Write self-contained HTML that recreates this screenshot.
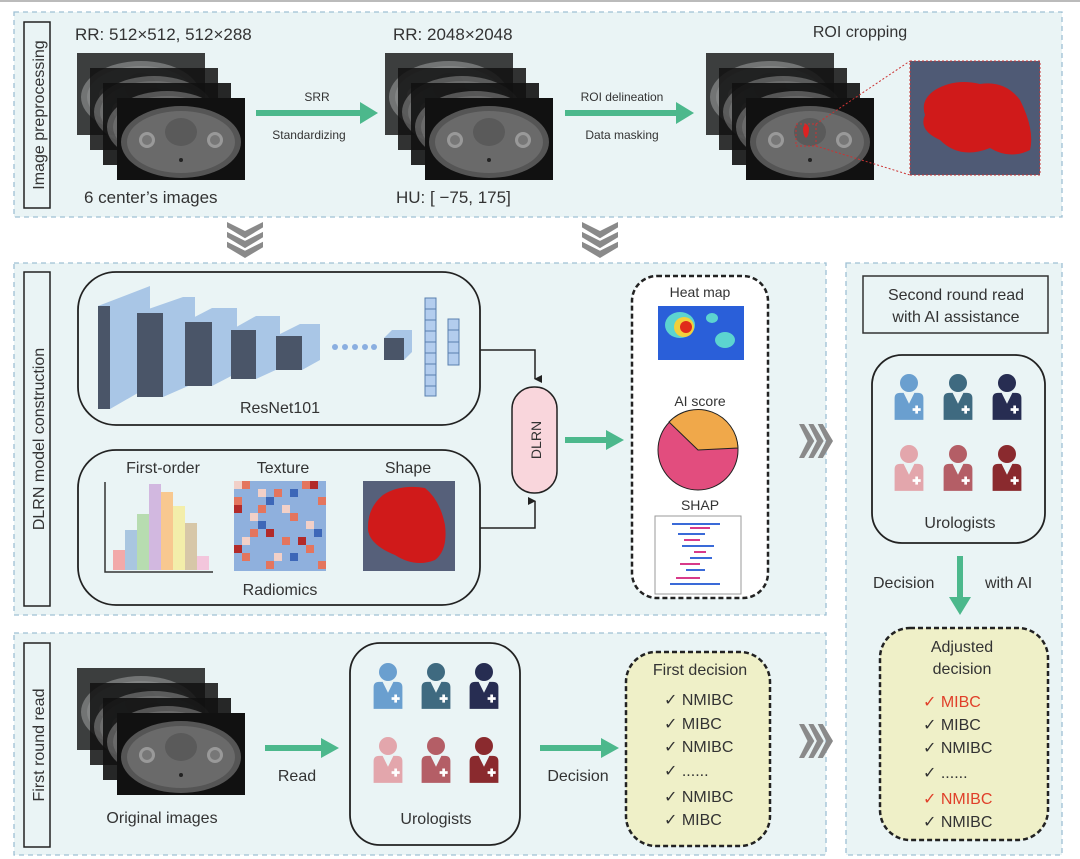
<!DOCTYPE html>
<html><head><meta charset="utf-8"><style>
html,body{margin:0;padding:0;background:#fff}
svg{display:block}
text{font-family:"Liberation Sans",sans-serif;fill:#333}
</style></head><body>
<svg width="1080" height="859" viewBox="0 0 1080 859" xmlns="http://www.w3.org/2000/svg">
<defs>
<symbol id="ct" viewBox="0 0 128 82">
<rect width="128" height="82" fill="#111"/>
<ellipse cx="64" cy="44" rx="60" ry="36" fill="#555"/>
<ellipse cx="64" cy="44" rx="54" ry="31" fill="#6a6a6a"/>
<ellipse cx="64" cy="34" rx="16" ry="14" fill="#5a5a5a"/>
<circle cx="30" cy="42" r="8" fill="#999"/><circle cx="98" cy="42" r="8" fill="#999"/>
<circle cx="30" cy="42" r="5" fill="#777"/><circle cx="98" cy="42" r="5" fill="#777"/>
<circle cx="64" cy="62" r="2" fill="#222"/>
</symbol>
<symbol id="ctstack" viewBox="0 0 168 128">
<use href="#ct" x="0" y="0" width="128" height="82" opacity="0.8"/>
<use href="#ct" x="13" y="15" width="128" height="82" opacity="0.85"/>
<use href="#ct" x="26" y="30" width="128" height="82" opacity="0.9"/>
<use href="#ct" x="40" y="45" width="128" height="82"/>
</symbol>
<symbol id="doc" viewBox="0 0 40 52">
<circle cx="20" cy="11" r="10"/>
<path d="M4 28 Q4 22 10 22 L14 22 L20 34 L26 22 L30 22 Q36 22 36 28 L36 52 L4 52 Z"/>
<rect x="27" y="36" width="3" height="9" fill="#fff"/><rect x="24" y="39" width="9" height="3" fill="#fff"/>
</symbol>
<symbol id="chev" viewBox="0 0 40 40">
<path d="M0 0 L20 10 L40 0 L40 6 L20 18 L0 6Z M0 11 L20 21 L40 11 L40 17 L20 29 L0 17Z M0 22 L20 32 L40 22 L40 28 L20 40 L0 28Z" fill="#8a8a8a"/>
</symbol>
<symbol id="chevr" viewBox="0 0 40 40">
<path d="M0 0 L10 20 L0 40 L6 40 L18 20 L6 0Z M11 0 L21 20 L11 40 L17 40 L29 20 L17 0Z M22 0 L32 20 L22 40 L28 40 L40 20 L28 0Z" fill="#8a8a8a"/>
</symbol>
<marker id="ah" markerWidth="8" markerHeight="8" refX="4" refY="7" orient="auto-start-reverse" markerUnits="userSpaceOnUse"><path d="M0 0 L8 0 L4 8Z" fill="#222"/></marker>
</defs>
<line x1="0" y1="1" x2="1080" y2="1" stroke="#bbb" stroke-width="2"/>
<!-- panels -->
<g fill="#eaf4f5" stroke="#9fc0d4" stroke-width="1.3" stroke-dasharray="5 4">
<rect x="14" y="12" width="1048" height="205"/>
<rect x="14" y="263" width="812" height="352"/>
<rect x="846" y="263" width="216" height="592"/>
<rect x="14" y="633" width="812" height="222"/>
</g>
<!-- vertical labels -->
<g fill="none" stroke="#222" stroke-width="1.5">
<rect x="24" y="22" width="26" height="186"/>
<rect x="24" y="272" width="26" height="334"/>
<rect x="24" y="643" width="26" height="204"/>
</g>
<text transform="translate(44,115) rotate(-90)" font-size="16" text-anchor="middle">Image preprocessing</text>
<text transform="translate(44,439) rotate(-90)" font-size="16" text-anchor="middle">DLRN model construction</text>
<text transform="translate(44,745) rotate(-90)" font-size="16" text-anchor="middle">First round read</text>

<!-- panel 1 -->
<text x="75" y="40" font-size="17">RR: 512×512, 512×288</text>
<use href="#ctstack" x="77" y="53" width="168" height="128"/>
<text x="84" y="203" font-size="17">6  center’s images</text>
<path d="M256 113 L365 113" stroke="#4cb88c" stroke-width="6"/><path d="M360 102 L378 113 L360 124Z" fill="#4cb88c"/>
<text x="317" y="101" font-size="12" text-anchor="middle">SRR</text>
<text x="309" y="139" font-size="12" text-anchor="middle">Standardizing</text>
<text x="393" y="40" font-size="17">RR: 2048×2048</text>
<use href="#ctstack" x="385" y="53" width="168" height="128"/>
<text x="396" y="203" font-size="17">HU: [ −75, 175]</text>
<path d="M565 113 L680 113" stroke="#4cb88c" stroke-width="6"/><path d="M676 102 L694 113 L676 124Z" fill="#4cb88c"/>
<text x="622" y="101" font-size="12" text-anchor="middle">ROI delineation</text>
<text x="622" y="139" font-size="12" text-anchor="middle">Data masking</text>
<text x="860" y="37" font-size="16" text-anchor="middle">ROI cropping</text>
<use href="#ctstack" x="706" y="53" width="168" height="128"/>
<path d="M803 128 Q806 120 809 128 Q809 136 806 138 Q803 136 803 128Z" fill="#d22"/>
<rect x="796" y="124" width="20" height="22" fill="none" stroke="#c33" stroke-dasharray="2 2"/>
<line x1="816" y1="124" x2="910" y2="61" stroke="#c33" stroke-dasharray="2 2"/>
<line x1="816" y1="146" x2="910" y2="175" stroke="#c33" stroke-dasharray="2 2"/>
<rect x="910" y="61" width="130" height="114" fill="#4f5a75" stroke="#c33" stroke-dasharray="2 2"/>
<path d="M935 90 Q955 78 980 84 Q1005 80 1020 100 Q1035 130 1030 150 Q1010 160 990 148 Q960 160 940 140 Q918 130 925 115 Q920 100 935 90Z" fill="#d01a1a"/>
<use href="#chev" x="225" y="222" width="40" height="36"/>
<use href="#chev" x="580" y="222" width="40" height="36"/>

<!-- panel 2 -->
<rect x="78" y="272" width="402" height="153" rx="38" fill="none" stroke="#222" stroke-width="1.8"/>
<g>
<path d="M98 306 L98 409 L110 409 L110 306Z" fill="#4a5568"/><path d="M98 306 L150 286 L150 386 L110 409 L110 306Z" fill="#a9c6e6"/>
<path d="M137 313 L137 397 L163 397 L163 313Z" fill="#4a5568"/><path d="M137 313 L183 297 L195 297 L195 383 L163 397 L163 313Z" fill="#a9c6e6"/>
<path d="M185 322 L185 386 L212 386 L212 322Z" fill="#4a5568"/><path d="M185 322 L212 308 L237 308 L237 373 L212 386 L212 322Z" fill="#a9c6e6"/>
<path d="M231 330 L231 379 L256 379 L256 330Z" fill="#4a5568"/><path d="M231 330 L256 316 L280 316 L280 368 L256 379 L256 330Z" fill="#a9c6e6"/>
<path d="M276 336 L276 370 L302 370 L302 336Z" fill="#4a5568"/><path d="M276 336 L300 324 L320 324 L320 360 L302 370 L302 336Z" fill="#a9c6e6"/>
<g fill="#8aaee0"><circle cx="335" cy="347" r="3"/><circle cx="345" cy="347" r="3"/><circle cx="355" cy="347" r="3"/><circle cx="365" cy="347" r="3"/><circle cx="374" cy="347" r="3"/></g>
<path d="M384 338 L404 338 L404 360 L384 360Z" fill="#4a5568"/><path d="M384 338 L392 330 L412 330 L412 352 L404 360 L404 338Z" fill="#a9c6e6"/>
<g fill="#b3cdee" stroke="#5a7fae" stroke-width="1">
<rect x="425" y="298" width="11" height="98"/><rect x="448" y="319" width="11" height="46"/>
</g>
<path d="M425 309H436M425 320H436M425 331H436M425 342H436M425 353H436M425 364H436M425 375H436M425 386H436M448 330H459M448 342H459M448 353H459" stroke="#5a7fae"/>
</g>
<text x="280" y="413" font-size="16" text-anchor="middle">ResNet101</text>
<rect x="78" y="450" width="402" height="155" rx="38" fill="none" stroke="#222" stroke-width="1.8"/>
<text x="163" y="473" font-size="16" text-anchor="middle">First-order</text>
<text x="283" y="473" font-size="16" text-anchor="middle">Texture</text>
<text x="408" y="473" font-size="16" text-anchor="middle">Shape</text>
<g>
<rect x="113" y="550" width="12" height="20" fill="#f2a9a9"/>
<rect x="125" y="530" width="12" height="40" fill="#a9c6e0"/>
<rect x="137" y="514" width="12" height="56" fill="#b7dcb0"/>
<rect x="149" y="484" width="12" height="86" fill="#d2b8e0"/>
<rect x="161" y="492" width="12" height="78" fill="#f8c890"/>
<rect x="173" y="506" width="12" height="64" fill="#f3eeaa"/>
<rect x="185" y="523" width="12" height="47" fill="#d7c7a8"/>
<rect x="197" y="556" width="12" height="14" fill="#f3c6dc"/>
<path d="M105 482 L105 572 L213 572" fill="none" stroke="#333" stroke-width="1.5"/>
</g>
<g>
<rect x="234" y="481" width="92" height="90" fill="#8fb0dd"/>
<g fill="#e4755e"><rect x="242" y="481" width="8" height="8"/><rect x="274" y="489" width="8" height="8"/><rect x="302" y="481" width="8" height="8"/><rect x="234" y="497" width="8" height="8"/><rect x="258" y="505" width="8" height="8"/><rect x="290" y="513" width="8" height="8"/><rect x="318" y="497" width="8" height="8"/><rect x="250" y="529" width="8" height="8"/><rect x="282" y="537" width="8" height="8"/><rect x="306" y="545" width="8" height="8"/><rect x="242" y="553" width="8" height="8"/><rect x="266" y="561" width="8" height="8"/><rect x="318" y="561" width="8" height="8"/></g>
<g fill="#b22a2a"><rect x="234" y="505" width="8" height="8"/><rect x="310" y="481" width="8" height="8"/><rect x="266" y="529" width="8" height="8"/><rect x="234" y="545" width="8" height="8"/><rect x="298" y="537" width="8" height="8"/></g>
<g fill="#f2d0c8"><rect x="234" y="481" width="8" height="8"/><rect x="258" y="489" width="8" height="8"/><rect x="282" y="505" width="8" height="8"/><rect x="250" y="513" width="8" height="8"/><rect x="306" y="521" width="8" height="8"/><rect x="274" y="553" width="8" height="8"/><rect x="242" y="537" width="8" height="8"/></g>
<g fill="#3d67b8"><rect x="266" y="497" width="8" height="8"/><rect x="290" y="489" width="8" height="8"/><rect x="258" y="521" width="8" height="8"/><rect x="290" y="553" width="8" height="8"/><rect x="314" y="529" width="8" height="8"/></g>
</g>
<rect x="363" y="481" width="92" height="90" fill="#56607a"/>
<path d="M383 495 Q400 484 425 488 Q440 500 445 525 Q448 550 435 560 Q415 568 395 555 Q370 545 368 530 Q367 508 383 495Z" fill="#d01a1a"/>
<text x="280" y="595" font-size="16" text-anchor="middle">Radiomics</text>
<path d="M480 350 L535 350 L535 379" fill="none" stroke="#222" stroke-width="1.5" marker-end="url(#ah)"/>
<path d="M480 528 L535 528 L535 501" fill="none" stroke="#222" stroke-width="1.5" marker-end="url(#ah)"/>
<rect x="512" y="387" width="45" height="106" rx="22" fill="#f9d6dc" stroke="#222" stroke-width="1.5"/>
<text transform="translate(541,440) rotate(-90)" font-size="14" text-anchor="middle">DLRN</text>
<path d="M565 440 L610 440" stroke="#4cb88c" stroke-width="6"/><path d="M606 430 L624 440 L606 450Z" fill="#4cb88c"/>
<rect x="632" y="276" width="136" height="322" rx="25" fill="#fff" stroke="#222" stroke-width="2.5" stroke-dasharray="5 3"/>
<text x="700" y="297" font-size="14" text-anchor="middle">Heat map</text>
<rect x="658" y="306" width="86" height="54" fill="#2a5fd9"/>
<ellipse cx="680" cy="325" rx="15" ry="13" fill="#5cd4d0"/><ellipse cx="684" cy="327" rx="10" ry="10" fill="#f3d03c"/><ellipse cx="686" cy="327" rx="6" ry="6" fill="#e02a1a"/>
<ellipse cx="725" cy="340" rx="10" ry="8" fill="#5cd4d0"/><ellipse cx="712" cy="318" rx="6" ry="5" fill="#5cd4d0"/>
<text x="700" y="406" font-size="14" text-anchor="middle">AI score</text>
<circle cx="698" cy="450" r="40" fill="#e24d7e" stroke="#222" stroke-width="1"/>
<path d="M698 450 L669 422 A40 40 0 0 1 738 448 Z" fill="#f0a84a" stroke="#222" stroke-width="1"/>
<text x="700" y="510" font-size="14" text-anchor="middle">SHAP</text>
<rect x="655" y="516" width="86" height="78" fill="#fff" stroke="#999"/>
<g stroke="#3a6ad8" stroke-width="2"><line x1="672" y1="524" x2="720" y2="524"/><line x1="678" y1="534" x2="705" y2="534"/><line x1="682" y1="546" x2="714" y2="546"/><line x1="690" y1="558" x2="712" y2="558"/><line x1="686" y1="570" x2="705" y2="570"/><line x1="670" y1="584" x2="720" y2="584"/></g>
<g stroke="#d83a8a" stroke-width="2"><line x1="690" y1="528" x2="710" y2="528"/><line x1="684" y1="540" x2="700" y2="540"/><line x1="694" y1="552" x2="706" y2="552"/><line x1="680" y1="564" x2="700" y2="564"/><line x1="676" y1="578" x2="700" y2="578"/></g>

<!-- right panel -->
<rect x="863" y="276" width="185" height="57" fill="none" stroke="#333" stroke-width="1.5"/>
<text x="956" y="300" font-size="16" text-anchor="middle">Second round read</text>
<text x="956" y="322" font-size="16" text-anchor="middle">with AI assistance</text>
<rect x="872" y="355" width="173" height="188" rx="30" fill="none" stroke="#222" stroke-width="1.8"/>
<use href="#doc" x="891" y="373" width="36" height="47" fill="#6a9fcf"/>
<use href="#doc" x="940" y="373" width="36" height="47" fill="#3f6a80"/>
<use href="#doc" x="989" y="373" width="36" height="47" fill="#272d52"/>
<use href="#doc" x="891" y="444" width="36" height="47" fill="#e3a6ac"/>
<use href="#doc" x="940" y="444" width="36" height="47" fill="#b45e66"/>
<use href="#doc" x="989" y="444" width="36" height="47" fill="#8a2a2e"/>
<text x="960" y="528" font-size="16" text-anchor="middle">Urologists</text>
<path d="M960 556 L960 600" stroke="#4cb88c" stroke-width="6"/><path d="M949 597 L960 615 L971 597Z" fill="#4cb88c"/>
<text x="873" y="588" font-size="16">Decision</text>
<text x="985" y="588" font-size="16">with AI</text>
<rect x="880" y="628" width="168" height="212" rx="30" fill="#eff0c8" stroke="#222" stroke-width="2.5" stroke-dasharray="5 3"/>
<text x="962" y="652" font-size="16" text-anchor="middle">Adjusted</text>
<text x="962" y="674" font-size="16" text-anchor="middle">decision</text>
<g font-size="16">
<text x="923" y="707" style="fill:#e0402a">✓ MIBC</text>
<text x="923" y="730">✓ MIBC</text>
<text x="923" y="753">✓ NMIBC</text>
<text x="923" y="778">✓ ......</text>
<text x="923" y="804" style="fill:#e0402a">✓ NMIBC</text>
<text x="923" y="827">✓ NMIBC</text>
</g>
<use href="#chevr" x="796" y="424" width="40" height="34"/>
<use href="#chevr" x="796" y="724" width="40" height="34"/>

<!-- panel 3 -->
<use href="#ctstack" x="77" y="668" width="168" height="128"/>
<text x="162" y="823" font-size="16" text-anchor="middle">Original images</text>
<path d="M265 748 L325 748" stroke="#4cb88c" stroke-width="6"/><path d="M321 738 L339 748 L321 758Z" fill="#4cb88c"/>
<text x="297" y="781" font-size="16" text-anchor="middle">Read</text>
<rect x="350" y="643" width="170" height="202" rx="30" fill="none" stroke="#222" stroke-width="1.8"/>
<use href="#doc" x="370" y="662" width="36" height="47" fill="#6a9fcf"/>
<use href="#doc" x="418" y="662" width="36" height="47" fill="#3f6a80"/>
<use href="#doc" x="466" y="662" width="36" height="47" fill="#272d52"/>
<use href="#doc" x="370" y="736" width="36" height="47" fill="#e3a6ac"/>
<use href="#doc" x="418" y="736" width="36" height="47" fill="#b45e66"/>
<use href="#doc" x="466" y="736" width="36" height="47" fill="#8a2a2e"/>
<text x="436" y="824" font-size="16" text-anchor="middle">Urologists</text>
<path d="M540 748 L605 748" stroke="#4cb88c" stroke-width="6"/><path d="M601 738 L619 748 L601 758Z" fill="#4cb88c"/>
<text x="578" y="781" font-size="16" text-anchor="middle">Decision</text>
<rect x="626" y="652" width="144" height="194" rx="30" fill="#eff0c8" stroke="#222" stroke-width="2.5" stroke-dasharray="5 3"/>
<text x="700" y="675" font-size="16" text-anchor="middle">First decision</text>
<g font-size="16">
<text x="664" y="705">✓ NMIBC</text>
<text x="664" y="729">✓ MIBC</text>
<text x="664" y="752">✓ NMIBC</text>
<text x="664" y="776">✓ ......</text>
<text x="664" y="802">✓ NMIBC</text>
<text x="664" y="825">✓ MIBC</text>
</g>
</svg>
</body></html>
